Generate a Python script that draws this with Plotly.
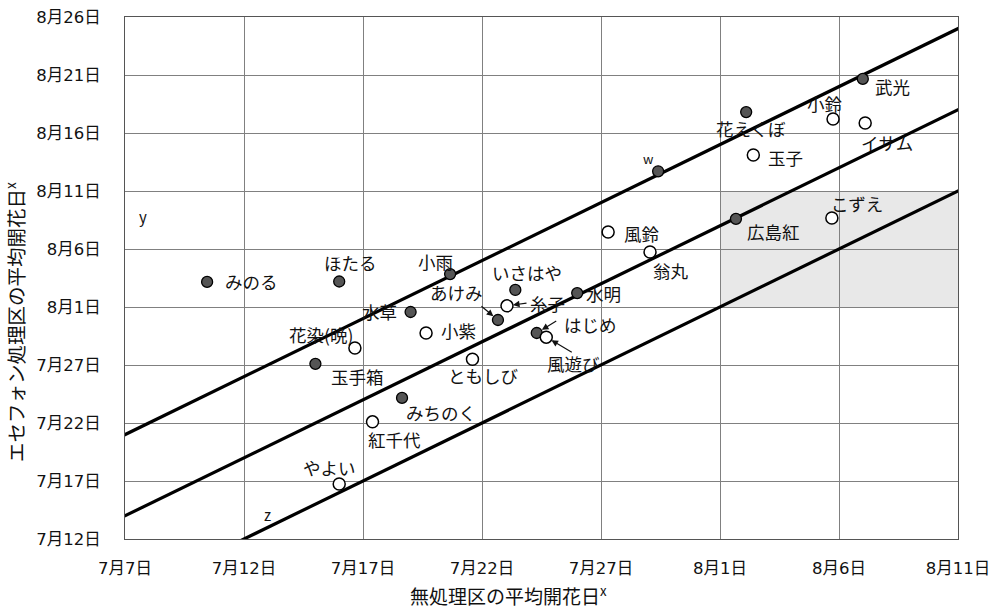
import plotly.graph_objects as go

# Dates encoded as "July-day" numbers: July d -> d, August d -> 31 + d
def jd(month, day):
    return day if month == 7 else 31 + day

# ---- data ----
filled_names = ["みのる", "ほたる", "小雨", "いさはや", "水明", "水草", "あけみ", "はじめ",
                "玉手箱", "みちのく", "w", "広島紅", "花えくぼ", "武光"]
filled_x = [jd(7, 10.45), jd(7, 16.0), jd(7, 20.66), jd(7, 23.4), jd(7, 26.0), jd(7, 19.0),
            jd(7, 22.67), jd(7, 24.3), jd(7, 15.0), jd(7, 18.64), jd(7, 29.4), jd(8, 1.67),
            jd(8, 2.1), jd(8, 7.0)]
filled_y = [jd(8, 3.16), jd(8, 3.2), jd(8, 3.84), jd(8, 2.47), jd(8, 2.2), jd(7, 31.57),
            jd(7, 30.88), jd(7, 29.76), jd(7, 27.1), jd(7, 24.16), jd(8, 12.7), jd(8, 8.6),
            jd(8, 17.8), jd(8, 20.66)]

open_names = ["糸子", "小紫", "花染(晩)", "風遊び", "ともしび", "紅千代", "やよい", "風鈴",
              "翁丸", "玉子", "小鈴", "イサム", "こずえ"]
open_x = [jd(7, 23.05), jd(7, 19.65), jd(7, 16.66), jd(7, 24.7), jd(7, 21.6), jd(7, 17.4),
          jd(7, 16.0), jd(7, 27.3), jd(7, 29.06), jd(8, 2.4), jd(8, 5.75), jd(8, 7.1), jd(8, 5.7)]
open_y = [jd(8, 1.1), jd(7, 29.76), jd(7, 28.47), jd(7, 29.4), jd(7, 27.5), jd(7, 22.1),
          jd(7, 16.74), jd(8, 7.47), jd(8, 5.74), jd(8, 14.1), jd(8, 17.2), jd(8, 16.86), jd(8, 8.67)]

# reference lines: y = x + offset (days)
line_offsets = [14, 7, 0]

x_tick_vals = [jd(7, 7), jd(7, 12), jd(7, 17), jd(7, 22), jd(7, 27), jd(8, 1), jd(8, 6), jd(8, 11)]
x_tick_text = ["7月7日", "7月12日", "7月17日", "7月22日", "7月27日", "8月1日", "8月6日", "8月11日"]
y_tick_vals = [jd(7, 12), jd(7, 17), jd(7, 22), jd(7, 27), jd(8, 1), jd(8, 6), jd(8, 11),
               jd(8, 16), jd(8, 21), jd(8, 26)]
y_tick_text = ["7月12日", "7月17日", "7月22日", "7月27日", "8月1日", "8月6日", "8月11日",
               "8月16日", "8月21日", "8月26日"]

shade_x = [jd(8, 1), jd(8, 11)]
shade_y = [jd(8, 1), jd(8, 11)]

x_title = "無処理区の平均開花日<sup>x</sup>"
y_title = "エセフォン処理区の平均開花日<sup>x</sup>"

# label pixel offsets (style) : name -> (dx, dy) ; dy positive = up
label_shift = {
    "みのる": (44, 0), "ほたる": (11, 19), "小雨": (-15, 13), "いさはや": (12, 17),
    "水明": (26, 0), "水草": (-31, 0), "あけみ": (-41, 27), "はじめ": (54, 8),
    "玉手箱": (42, -13), "みちのく": (39, -15), "w": (-10, 13), "広島紅": (38, -13),
    "花えくぼ": (5, -16), "武光": (30, -8),
    "糸子": (41, 2), "小紫": (32, 2), "花染(晩)": (-34, 13), "風遊び": (27, -26),
    "ともしび": (11, -16), "紅千代": (22, -18), "やよい": (-10, 17), "風鈴": (34, -2),
    "翁丸": (21, -18), "玉子": (32, -2), "小鈴": (-8, 16), "イサム": (22, -19), "こずえ": (25, 15),
}
# arrows: name -> (ax, ay) tail offset in px
arrows = {"あけみ": (-18, -15), "糸子": (21, -3), "はじめ": (21, -13), "風遊び": (27, 16)}

FONT = "Noto Sans CJK JP"
TICKFONT = "DejaVu Sans, Noto Sans CJK JP"
XR = [jd(7, 7), jd(8, 11)]
YR = [jd(7, 12), jd(8, 26)]

fig = go.Figure()

for off in line_offsets:
    fig.add_trace(go.Scatter(x=[XR[0] - 5, XR[1] + 5], y=[XR[0] - 5 + off, XR[1] + 5 + off],
                             mode="lines", line=dict(color="black", width=3.2),
                             hoverinfo="skip", showlegend=False, cliponaxis=True))

fig.add_trace(go.Scatter(x=filled_x, y=filled_y, mode="markers", showlegend=False,
                         marker=dict(size=11, color="#555555", line=dict(color="black", width=1.3))))
fig.add_trace(go.Scatter(x=open_x, y=open_y, mode="markers", showlegend=False,
                         marker=dict(size=12, color="white", line=dict(color="black", width=1.5))))

fig.add_shape(type="rect", x0=shade_x[0], x1=shade_x[1], y0=shade_y[0], y1=shade_y[1],
              xref="x", yref="y", fillcolor="#e8e8e8", line=dict(width=0), layer="below")

ann = []
all_pts = list(zip(filled_names, filled_x, filled_y)) + list(zip(open_names, open_x, open_y))
for name, x, y in all_pts:
    dx, dy = label_shift[name]
    ann.append(dict(x=x, y=y, text=name, showarrow=False, xshift=dx, yshift=dy,
                    xanchor="center", yanchor="middle",
                    font=dict(family=FONT, size=(13 if name == "w" else 17.5), color="#111")))
    if name in arrows:
        ax, ay = arrows[name]
        ann.append(dict(x=x, y=y, text="", showarrow=True, ax=ax, ay=ay, axref="pixel", ayref="pixel",
                        arrowhead=2, arrowsize=1.1, arrowwidth=1.2, arrowcolor="#111", standoff=6))

ann.append(dict(x=jd(7, 7.76), y=jd(7, 39.76), text="y", showarrow=False,
                font=dict(family=FONT, size=15, color="#111")))
ann.append(dict(x=jd(7, 13.0), y=jd(7, 14.07), text="z", showarrow=False,
                font=dict(family=FONT, size=15, color="#111")))

# axis titles placed as annotations (off-centre like the reference)
ann.append(dict(xref="paper", yref="paper", x=0.46, y=-0.107, text=x_title, showarrow=False,
                xanchor="center", yanchor="middle", font=dict(family=FONT, size=19, color="#111")))
ann.append(dict(xref="paper", yref="paper", x=-0.132, y=0.4157, text=y_title, showarrow=False,
                textangle=-90, xanchor="center", yanchor="middle",
                font=dict(family=FONT, size=19.5, color="#111")))

fig.update_layout(
    width=997, height=608,
    margin=dict(l=125, r=39, t=17, b=69, autoexpand=False),
    paper_bgcolor="white", plot_bgcolor="white",
    font=dict(family=FONT, size=16, color="#111"),
    annotations=ann,
    xaxis=dict(range=XR, tickvals=x_tick_vals, ticktext=x_tick_text, showgrid=True, automargin=False,
               gridcolor="#808080", gridwidth=1, zeroline=False, showline=True, linecolor="#555",
               linewidth=1, mirror=True, ticks="", ticklabelstandoff=14,
               tickfont=dict(family=TICKFONT, size=16.5, color="#111")),
    yaxis=dict(range=YR, tickvals=y_tick_vals, ticktext=y_tick_text, showgrid=True, automargin=False,
               gridcolor="#808080", gridwidth=1, zeroline=False, showline=True, linecolor="#555",
               linewidth=1, mirror=True, ticks="", ticklabelstandoff=20,
               tickfont=dict(family=TICKFONT, size=16.5, color="#111")),
)

fig.write_html("out.html")
